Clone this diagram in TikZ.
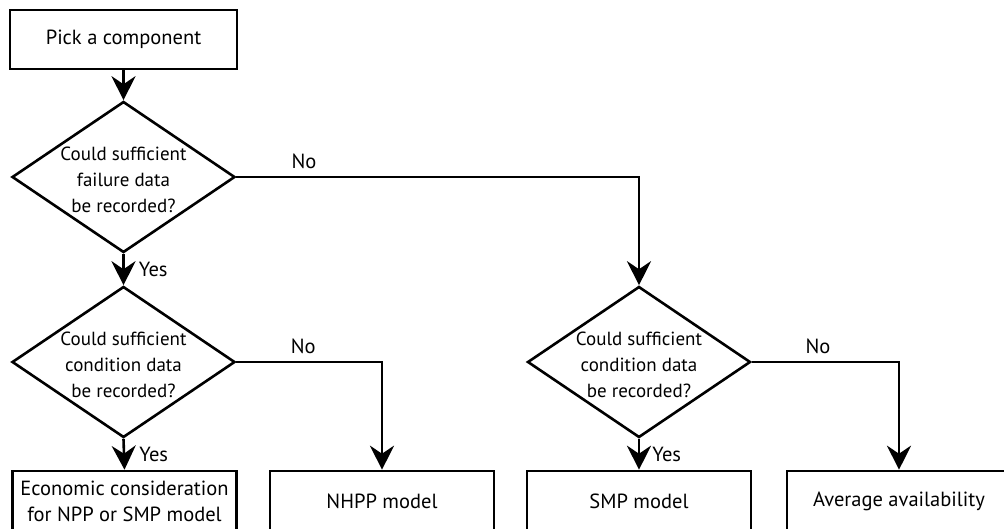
\documentclass[tikz,border=0pt]{standalone}
\usepackage{fontspec}
\setmainfont{PT Sans}
\usetikzlibrary{shapes.geometric}
\usetikzlibrary{arrows.meta}
\usetikzlibrary{positioning}

\newcommand{\qlines}[1]{\makebox[0pt]{\smash{\raisebox{-9pt}{\fontsize{19}{26}\selectfont\begin{tabular}{@{}c@{}}#1\end{tabular}}}}}

\tikzset{
  stepbox/.style={draw, line width=2.6pt, minimum width=224pt, minimum height=60pt, inner sep=0pt, align=center},
  query/.style={draw, diamond, line width=2.6pt, minimum width=223pt, minimum height=151pt, inner sep=0pt},
  flow/.style={line width=2.6pt, -{Stealth[length=24pt, width=24pt, inset=8pt]}},
  answer/.style={inner sep=0pt}
}

\begin{document}
\begin{tikzpicture}[x=1pt, y=-1pt, font=\fontsize{20.5}{26}\selectfont]
		\useasboundingbox (0,0) rectangle (1004,528);
		% boxes and questions
		\node[stepbox, minimum width=227pt, minimum height=59pt] (pick) at (123.5, 39.5) {Pick a component};
		\node[query] (fail) at (123.5, 177) {\qlines{Could sufficient\\failure data\\be recorded?}};
		\node[query] (condA) at (123.5, 362) {\qlines{Could sufficient\\condition data\\be recorded?}};
		\node[query] (condB) at (639, 362) {\qlines{Could sufficient\\condition data\\be recorded?}};
		\node[stepbox] (econ) at (124.5, 501) {Economic consideration\\for NPP or SMP model};
		\node[stepbox] (nhpp) at (382, 501) {NHPP model};
		\node[stepbox] (smp) at (639, 501) {SMP model};
		\node[stepbox] (avail) at (899, 501) {Average availability};
		% connectors
		\draw[flow] (pick) -- (fail);
		\draw[flow] (fail.south) -- node[answer, right=14pt] (yes1) {Yes} (condA.north);
		\draw[flow] (fail.east) -| node[answer, pos=0.084, above=7pt] (no1) {No} (condB.north);
		\draw[flow] (condA.south) -- node[answer, right=14pt] (yes2) {Yes} (econ.north);
		\draw[flow] (condA.east) -| node[answer, pos=0.23, above=7pt] (no2) {No} (nhpp.north);
		\draw[flow] (condB.south) -- node[answer, right=12pt] (yes3) {Yes} (smp.north);
		\draw[flow] (condB.east) -| node[answer, pos=0.225, above=7pt] (no3) {No} (avail.north);
\end{tikzpicture}
\end{document}
